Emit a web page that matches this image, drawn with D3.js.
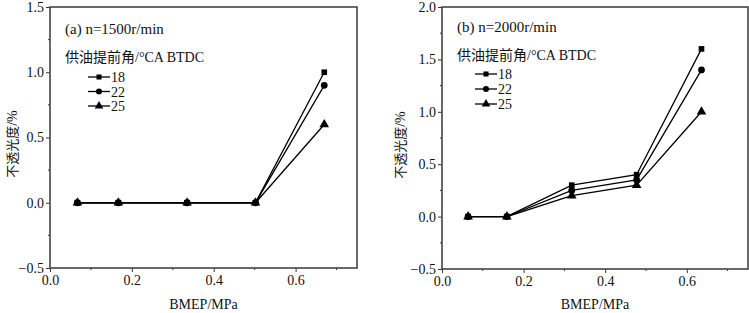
<!DOCTYPE html>
<html>
<head>
<meta charset="utf-8"/>
<script src="https://cdn.jsdelivr.net/npm/d3@7"></script>
<style>
  body { margin: 0; background: #fff; }
  text { fill: #111; }
</style>
</head>
<body>
<svg id="chart" width="749" height="313"></svg>
<script>
// panel (a), n=1500 r/min
const bmepA = [0.067, 0.167, 0.335, 0.502, 0.670];
const a18 = [0, 0, 0, 0, 1.0];
const a22 = [0, 0, 0, 0, 0.9];
const a25 = [0, 0, 0, 0, 0.6];

// panel (b), n=2000 r/min
const bmepB = [0.064, 0.159, 0.318, 0.477, 0.636];
const b18 = [0, 0, 0.30, 0.40, 1.6];
const b22 = [0, 0, 0.25, 0.35, 1.4];
const b25 = [0, 0, 0.20, 0.30, 1.0];

const timings = ["18", "22", "25"];
const xTicks = [0.0, 0.2, 0.4, 0.6];
const yTicksA = [-0.5, 0.0, 0.5, 1.0, 1.5];
const yTicksB = [-0.5, 0.0, 0.5, 1.0, 1.5, 2.0];

const SERIF = "'Liberation Serif', 'Times New Roman', serif";
const CJK = "'Noto Sans CJK SC', sans-serif";
const symbols = [d3.symbolSquare, d3.symbolCircle, d3.symbolTriangle];
const symSize = [32, 36, 40];

const svg = d3.select("#chart");

function panel(opt) {
  const x = d3.scaleLinear().domain([0, 0.75]).range([opt.left, opt.right]);
  const y = d3.scaleLinear().domain(opt.yDomain).range([opt.bottom, opt.top]);
  const g = svg.append("g");

  // minor ticks
  const xMinor = d3.range(0.1, 0.75, 0.2);
  g.selectAll(".xm").data(xMinor).enter().append("line")
    .attr("x1", d => x(d)).attr("x2", d => x(d))
    .attr("y1", opt.bottom).attr("y2", opt.bottom + 2)
    .attr("stroke", "#333");
  const yMinor = d3.range(opt.yDomain[0] + 0.25, opt.yDomain[1], 0.5);
  g.selectAll(".ym").data(yMinor).enter().append("line")
    .attr("x1", opt.left - 2).attr("x2", opt.left)
    .attr("y1", d => y(d)).attr("y2", d => y(d))
    .attr("stroke", "#333");

  const xAxis = g.append("g")
    .attr("transform", `translate(0,${opt.bottom})`)
    .call(d3.axisBottom(x).tickValues(xTicks).tickSize(4).tickPadding(3).tickFormat(d3.format(".1f")));
  const yAxis = g.append("g")
    .attr("transform", `translate(${opt.left},0)`)
    .call(d3.axisLeft(y).tickValues(opt.yTicks).tickSize(4).tickPadding(2).tickFormat(d3.format(".1f")));
  [xAxis, yAxis].forEach(a => {
    a.select(".domain").remove();
    a.selectAll("line").attr("stroke", "#333");
    a.selectAll("text").style("font-family", SERIF).style("font-size", "14px").attr("fill", "#111");
  });

  // frame
  g.append("rect")
    .attr("x", opt.left).attr("y", opt.top)
    .attr("width", opt.right - opt.left).attr("height", opt.bottom - opt.top)
    .attr("fill", "none").attr("stroke", "#444").attr("stroke-width", 1.6);

  const line = d3.line().x(d => x(d[0])).y(d => y(d[1]));
  opt.series.forEach((s, i) => {
    const pts = opt.xs.map((v, j) => [v, s[j]]);
    g.append("path").datum(pts)
      .attr("d", line).attr("fill", "none")
      .attr("stroke", "#000").attr("stroke-width", 1.3);
    g.selectAll(".m" + i).data(pts).enter().append("path")
      .attr("transform", d => `translate(${x(d[0])},${y(d[1])})`)
      .attr("d", d3.symbol().type(symbols[i]).size(symSize[i]))
      .attr("fill", "#000");
  });

  // labels
  g.append("text").attr("x", opt.left + 15).attr("y", opt.titleY)
    .style("font-family", SERIF).style("font-size", "15px").text(opt.title);
  g.append("text").attr("x", opt.left + 15).attr("y", opt.legY)
    .style("font-family", SERIF).style("font-size", "14px")
    .call(t => {
      t.append("tspan").style("font-family", CJK).style("font-size", "14px").text("供油提前角");
      t.append("tspan").text("/°CA BTDC");
    });
  timings.forEach((name, i) => {
    const cy = opt.legY0 + i * opt.legStep;
    const lx = opt.left + opt.legX;
    g.append("line").attr("x1", lx).attr("x2", lx + 22)
      .attr("y1", cy).attr("y2", cy)
      .attr("stroke", "#000").attr("stroke-width", 1.3);
    g.append("path").attr("transform", `translate(${lx + 11},${cy})`)
      .attr("d", d3.symbol().type(symbols[i]).size(symSize[i] * 0.8)).attr("fill", "#000");
    g.append("text").attr("x", lx + 23).attr("y", cy + 5)
      .style("font-family", SERIF).style("font-size", "14px").text(name);
  });

  g.append("text").attr("x", (opt.left + opt.right) / 2).attr("y", 309)
    .attr("text-anchor", "middle")
    .style("font-family", SERIF).style("font-size", "14px")
    .text("BMEP/MPa");
  g.append("text")
    .attr("transform", `translate(${opt.yLabelX},${opt.yLabelY}) rotate(-90)`)
    .attr("text-anchor", "middle")
    .style("font-family", SERIF).style("font-size", "14px")
    .call(t => {
      t.append("tspan").style("font-family", CJK).style("font-size", "13px").text("不透光度");
      t.append("tspan").text("/%");
    });
}

panel({
  left: 50, right: 357, top: 7, bottom: 268,
  yDomain: [-0.5, 1.5], yTicks: yTicksA,
  xs: bmepA, series: [a18, a22, a25],
  title: "(a) n=1500r/min", titleY: 34, legY: 62,
  legX: 38, legY0: 77, legStep: 14.5,
  yLabelX: 17, yLabelY: 144
});
panel({
  left: 442, right: 748, top: 7, bottom: 269,
  yDomain: [-0.5, 2.0], yTicks: yTicksB,
  xs: bmepB, series: [b18, b22, b25],
  title: "(b) n=2000r/min", titleY: 32, legY: 60,
  legX: 33, legY0: 74, legStep: 15,
  yLabelX: 405, yLabelY: 145
});
</script>
</body>
</html>
